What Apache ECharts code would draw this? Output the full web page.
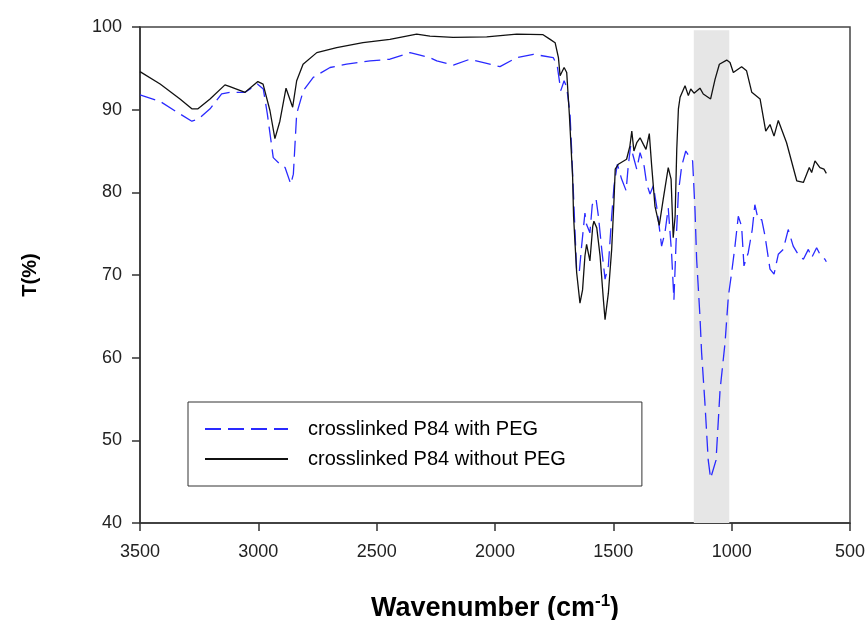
<!DOCTYPE html>
<html>
<head>
<meta charset="utf-8">
<script src="https://cdn.jsdelivr.net/npm/echarts@6/dist/echarts.min.js"></script>
<style>
  html, body { margin: 0; padding: 0; background: #fff; }
  #chart { width: 868px; height: 620px; }
</style>
</head>
<body>
<div id="chart"></div>
<script>
// crosslinked P84 without PEG (black line)
var wnNoPeg = [3500,3415,3331,3281,3255,3204,3141,3120,3056,3002,2980,2951,2930,2909,2883,2855,2838,2811,2753,2669,
    2558,2444,2331,2275,2177,2035,1908,1797,1767,1746,1732,1725,1708,1697,1686,1672,1668,1662,1655,1641,
    1630,1620,1613,1599,1587,1582,1570,1556,1542,1535,1521,1507,1497,1492,1479,1444,1430,1422,1413,1401,
    1387,1373,1362,1348,1338,1324,1306,1289,1268,1256,1247,1239,1232,1225,1218,1197,1183,1173,1159,1134,
    1120,1089,1070,1052,1021,1007,993,958,937,915,880,856,838,821,803,768,740,725,697,672,
    662,648,627,610,600];
var tNoPeg = [94.6,93.1,91.3,90.1,90.1,91.3,93.0,92.8,92.1,93.4,93.1,89.9,86.5,88.6,92.6,90.3,93.5,95.5,96.9,97.5,
    98.1,98.5,99.15,98.9,98.75,98.8,99.15,99.07,98.5,98.1,96.3,94.1,95.1,94.5,89.5,81.8,77.1,73.9,70.3,66.6,
    68.2,72.3,73.7,71.7,75.9,76.5,75.7,72.3,67.0,64.6,67.8,73.1,79.2,82.8,83.4,84.0,85.6,87.4,85.0,86.0,
    86.6,85.8,85.2,87.1,83.2,78.3,76.0,79.2,83.0,81.6,74.5,77.1,85.2,90.1,91.5,92.9,91.7,92.5,92.0,92.6,
    91.9,91.3,93.7,95.5,96.0,95.7,94.5,95.2,94.7,92.1,91.3,87.4,88.2,86.8,88.7,86.0,83.0,81.4,81.2,83.0,
    82.4,83.8,83.0,82.8,82.3];

// crosslinked P84 with PEG (blue dashed line)
var wnPeg = [3500,3415,3338,3281,3254,3204,3155,3120,3056,3004,2979,2962,2937,2908,2887,2863,2852,2838,2810,2768,
    2697,2627,2528,2444,2359,2317,2275,2246,2176,2106,2035,1979,1908,1838,1754,1737,1722,1708,1697,1683,
    1676,1655,1644,1634,1620,1613,1599,1589,1573,1563,1549,1535,1521,1507,1497,1483,1465,1446,1437,1427,
    1416,1401,1387,1370,1359,1345,1331,1317,1296,1282,1268,1254,1244,1235,1225,1211,1194,1176,1165,1155,
    1148,1134,1127,1113,1099,1089,1066,1049,1028,1014,1000,986,972,958,948,930,913,902,888,873,
    859,838,821,803,782,761,740,719,697,676,662,641,627,606,600];
var tPeg = [91.8,91.0,89.6,88.6,88.85,90.1,91.9,92.1,92.1,93.1,92.5,89.5,84.2,83.4,83.0,81.0,82.2,89.5,92.3,93.9,
    95.1,95.5,95.9,96.1,96.9,96.6,96.3,95.9,95.4,96.1,95.6,95.2,96.3,96.7,96.3,95.3,92.3,93.5,92.7,89.5,
    85.0,70.5,70.3,73.5,77.5,76.1,75.1,78.5,79.2,77.1,73.1,69.5,71.1,77.1,80.8,83.4,81.6,80.2,83.2,85.6,
    84.4,82.8,84.8,83.2,81.0,79.8,80.8,78.3,73.5,75.1,78.1,72.7,67.0,73.9,80.0,83.2,85.0,84.2,83.8,77.9,
    71.9,65.0,60.6,54.5,47.6,45.4,47.6,56.1,61.8,67.4,70.3,73.5,77.1,75.9,71.1,72.7,75.5,78.5,76.7,76.7,
    74.7,70.7,70.1,72.5,73.1,75.5,73.5,72.5,71.9,73.1,72.1,73.3,72.5,71.9,71.6];

// shaded band (wavenumber range)
var bandRange = [1160, 1010];
var seriesNames = ['crosslinked P84 with PEG', 'crosslinked P84 without PEG'];

function zip(xs, ys) {
    return xs.map(function (x, i) { return [x, ys[i]]; });
}

var chart = echarts.init(document.getElementById('chart'));

var option = {
    animation: false,
    backgroundColor: '#fff',
    textStyle: { fontFamily: 'Liberation Sans, Arial, sans-serif' },
    grid: {
        left: 140,
        right: 18,
        top: 27,
        bottom: 97,
        outerBoundsMode: 'none',
        containLabel: false,
        show: true,
        borderColor: '#444',
        borderWidth: 1.5
    },
    legend: {
        orient: 'vertical',
        left: 188,
        top: 402,
        padding: [17, 76, 17, 16],
        itemGap: 10,
        itemWidth: 83,
        itemHeight: 14,
        borderColor: '#333',
        borderWidth: 1,
        backgroundColor: '#fff',
        itemStyle: { opacity: 0 },
        textStyle: {
            color: '#000',
            fontSize: 20,
            padding: [0, 0, 0, 15]
        },
        data: seriesNames
    },
    xAxis: {
        type: 'value',
        inverse: true,
        min: 500,
        max: 3500,
        interval: 500,
        name: 'Wavenumber (cm{sup|-1})',
        nameLocation: 'middle',
        nameGap: 70,
        nameTextStyle: {
            color: '#000',
            fontSize: 27,
            fontWeight: 'bold',
            rich: {
                sup: { fontSize: 17, fontWeight: 'bold', color: '#000', verticalAlign: 'bottom', padding: [0, 0, 15, 0] }
            }
        },
        axisLine: { lineStyle: { color: '#333', width: 1.5 } },
        axisTick: { show: true, length: 8, lineStyle: { color: '#333', width: 1.5 } },
        axisLabel: {
            color: '#222', fontSize: 18, margin: 20,
            formatter: function (v) { return String(v); }
        },
        splitLine: { show: false }
    },
    yAxis: {
        type: 'value',
        min: 40,
        max: 100,
        interval: 10,
        name: 'T(%)',
        nameLocation: 'middle',
        nameGap: 100,
        nameTextStyle: { color: '#000', fontSize: 20, fontWeight: 'bold' },
        axisLine: { show: true, lineStyle: { color: '#333', width: 1.5 } },
        axisTick: { show: true, length: 8, lineStyle: { color: '#333', width: 1.5 } },
        axisLabel: { color: '#222', fontSize: 18, margin: 18 },
        splitLine: { show: false }
    },
    series: [
        {
            name: seriesNames[0],
            type: 'line',
            symbol: 'none',
            z: 3,
            lineStyle: { color: '#2a2aff', width: 1.3, type: [16, 7] },
            itemStyle: { color: '#2a2aff' },
            data: zip(wnPeg, tPeg),
            markArea: {
                silent: true,
                z: 1,
                itemStyle: { color: '#e6e6e6', opacity: 1 },
                data: [[{ xAxis: bandRange[0], yAxis: 99.6 }, { xAxis: bandRange[1], yAxis: 40 }]]
            }
        },
        {
            name: seriesNames[1],
            type: 'line',
            symbol: 'none',
            z: 4,
            lineStyle: { color: '#111', width: 1.3 },
            itemStyle: { color: '#111' },
            data: zip(wnNoPeg, tNoPeg)
        }
    ]
};

chart.setOption(option);
</script>
</body>
</html>
